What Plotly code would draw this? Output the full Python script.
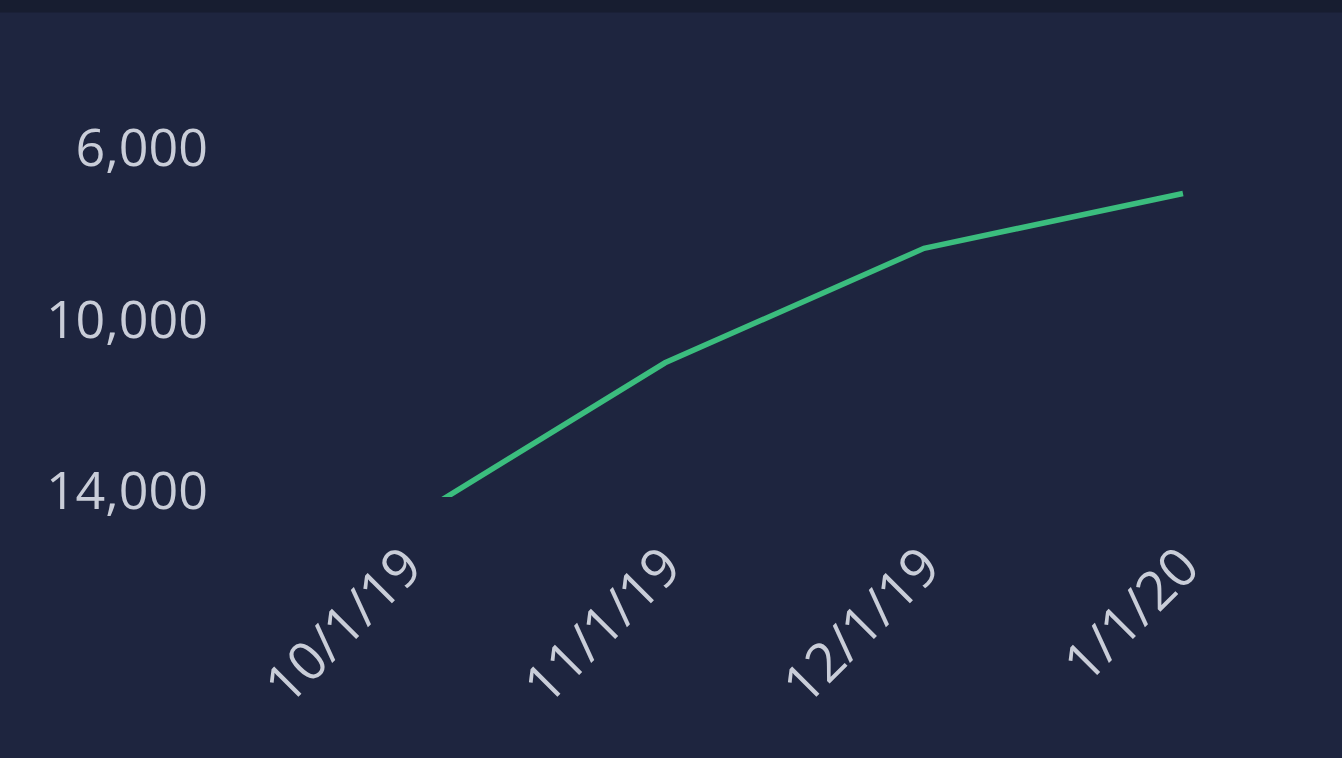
import plotly.graph_objects as go

dates = ["10/1/19", "11/1/19", "12/1/19", "1/1/20"]
values = [14720, 11010, 8340, 7060]
y_ticks = [6000, 10000, 14000]
y_tick_labels = ["6,000", "10,000", "14,000"]

BG = "#1e253f"
TXT = "#c9cdd8"
LINE = "#3bbd7e"

fig = go.Figure()
fig.add_trace(go.Scatter(
    x=dates, y=values, mode="lines",
    line=dict(color=LINE, width=5.5),
    hoverinfo="skip", showlegend=False,
))

fig.add_shape(type="rect", xref="paper", yref="paper",
              x0=-1, x1=2, y0=1 + 7.5/477, y1=1.2,
              fillcolor="#171d30", line=dict(width=0), layer="above")

fig.update_layout(
    width=1342, height=758,
    paper_bgcolor=BG, plot_bgcolor=BG,
    margin=dict(l=230, r=100, t=20, b=261, autoexpand=False),
    font=dict(family="Open Sans", color=TXT, size=52),
    showlegend=False,
)
fig.update_xaxes(
    type="category", range=[-0.68, 3.228],
    tickangle=-45, showgrid=False, zeroline=False, showline=False,
    ticks="", tickfont=dict(size=54, color=TXT), ticklabelstandoff=26,
)
fig.update_yaxes(
    range=[14140, 3015], tickvals=y_ticks, ticktext=y_tick_labels,
    showgrid=False, zeroline=False, showline=False, ticks="",
    tickfont=dict(size=52, color=TXT), ticklabelstandoff=21,
)

fig.write_html("out.html")
